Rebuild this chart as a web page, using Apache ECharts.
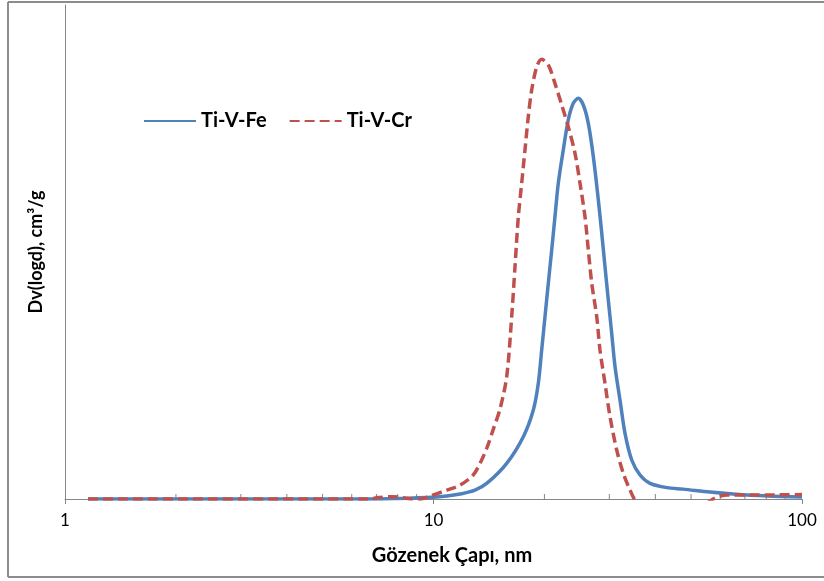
<!DOCTYPE html>
<html>
<head>
<meta charset="utf-8">
<script src="https://cdn.jsdelivr.net/npm/echarts@6/dist/echarts.min.js"></script>
<style>
  html, body { margin: 0; padding: 0; background: #fff; }
  #chart { width: 824px; height: 581px; }
</style>
</head>
<body>
<div id="chart"></div>
<script>
// Pore size distribution, Dv(logd) vs pore diameter (nm), log x axis
const seriesNames = ['Ti-V-Fe', 'Ti-V-Cr'];

const tiVFeDiameter = [1.155, 2.32, 6.73, 9.60, 10.88, 11.80, 12.96, 13.97, 15.80, 17.53, 18.66,
  19.25, 19.66, 20.07, 20.49, 20.93, 21.36, 21.81, 22.50, 23.21, 23.95, 24.72, 25.50, 26.31, 27.15,
  28.01, 28.61, 29.20, 29.81, 30.45, 31.09, 32.07, 33.09, 34.51, 36.35, 38.70, 43.02, 47.54, 56.27,
  65.0, 80.35, 100];
const tiVFeDv = [0, 0, 0, 0.0015, 0.003, 0.005, 0.009, 0.016, 0.0361, 0.0631, 0.0901,
  0.1171, 0.1508, 0.1845, 0.2183, 0.2520, 0.2857, 0.3195, 0.3532, 0.3836, 0.4005, 0.4055, 0.3988, 0.3802, 0.3464,
  0.3026, 0.2692, 0.2351, 0.2014, 0.1677, 0.1339, 0.1002, 0.0665, 0.0395, 0.0243, 0.0159, 0.0115, 0.010, 0.007,
  0.005, 0.003, 0.002];

const tiVCrDiameter = [1.155, 6.73, 7.07, 7.77, 8.27, 8.74, 9.19, 9.78, 10.88, 11.80, 12.80, 13.37,
  13.97, 14.51, 15.15, 15.80, 16.30, 16.64, 16.99, 17.35, 17.71, 18.08, 18.47, 19.06, 19.66, 20.49,
  21.36, 22.28, 23.21, 24.21, 24.98, 25.77, 26.31, 26.88, 27.73, 28.30, 29.20, 30.13, 31.42, 32.74,
  34.14, 35.22, 37.49, 41.18, 49.67, 54.56, 57.35, 62.58, 72.26, 100];
const tiVCrDv = [0, 0, 0.0015, 0.0023, 0.0013, 0, 0, 0.003, 0.009, 0.014, 0.024, 0.036,
  0.052, 0.070, 0.091, 0.1238, 0.1845, 0.2351, 0.2857, 0.3195, 0.3532, 0.3869, 0.4139, 0.4375, 0.4450, 0.4393,
  0.4207, 0.3988, 0.3768, 0.3499, 0.3195, 0.2857, 0.2520, 0.2183, 0.1845, 0.1508, 0.1171, 0.0833, 0.0496, 0.0260,
  0.0091, -0.001, -0.011, -0.016, -0.013, -0.006, 0, 0.004, 0.004, 0.0045];

// minor tick positions on the logarithmic axis
const minorTickValues = [2, 3, 4, 5, 6, 7, 8, 9, 20, 30, 40, 50, 60, 70, 80, 90];

const xAxisTitle = 'Gözenek Çapı, nm';
const yAxisTitle = 'Dv(logd), cm³/g';

const pairs = (xs, ys) => xs.map((x, i) => [x, ys[i]]);

const FONT = 'Lato, "Open Sans", "Liberation Sans", sans-serif';
const AXIS_GREY = '#868686';

const chart = echarts.init(document.getElementById('chart'), null, { renderer: 'canvas' });

chart.setOption({
  animation: false,
  backgroundColor: '#ffffff',
  grid: { left: 65, right: 22, top: 5, bottom: 82, containLabel: false },
  legend: {
    data: seriesNames,
    left: 143,
    top: 111,
    padding: 0,
    itemWidth: 52,
    itemHeight: 14,
    itemGap: 22,
    itemStyle: { opacity: 0 },
    textStyle: { fontFamily: FONT, fontWeight: 'bold', fontSize: 20, color: '#000', padding: [0, 0, 0, 0] }
  },
  xAxis: {
    type: 'log',
    logBase: 10,
    min: 1,
    max: 100,
    name: xAxisTitle,
    nameLocation: 'middle',
    nameGap: 47,
    nameTextStyle: { fontFamily: FONT, fontWeight: 'bold', fontSize: 20, color: '#000', padding: [0, 0, 0, 37] },
    axisLine: { show: true, lineStyle: { color: AXIS_GREY, width: 1 } },
    axisTick: { show: true, inside: false, length: 5, lineStyle: { color: AXIS_GREY } },
    axisLabel: { fontFamily: FONT, fontSize: 17, color: '#000', margin: 13 },
    splitLine: { show: false },
    minorTick: { show: false }
  },
  yAxis: {
    type: 'value',
    min: 0,
    max: 0.5,
    name: yAxisTitle,
    nameLocation: 'middle',
    nameGap: 20,
    nameTextStyle: { fontFamily: FONT, fontWeight: 'bold', fontSize: 18, color: '#000' },
    axisLine: { show: true, lineStyle: { color: AXIS_GREY, width: 1 } },
    axisTick: { show: false },
    axisLabel: { show: false },
    splitLine: { show: false }
  },
  series: [
    {
      name: 'minorTicks',
      type: 'custom',
      silent: true,
      data: minorTickValues.map(v => [v, 0]),
      renderItem: (params, api) => {
        const p = api.coord([api.value(0), 0]);
        return {
          type: 'line',
          shape: { x1: p[0], y1: p[1], x2: p[0], y2: p[1] - 5 },
          style: { stroke: AXIS_GREY, lineWidth: 1 }
        };
      },
      z: 1
    },
    {
      name: seriesNames[0],
      type: 'line',
      data: pairs(tiVFeDiameter, tiVFeDv),
      smooth: 0.3,
      symbol: 'none',
      clip: true,
      lineStyle: { color: '#4F81BD', width: 3.5 },
      itemStyle: { color: '#4F81BD' },
      z: 3
    },
    {
      name: seriesNames[1],
      type: 'line',
      data: pairs(tiVCrDiameter, tiVCrDv),
      smooth: 0.3,
      symbol: 'none',
      clip: true,
      lineStyle: { color: '#C0504D', width: 3.5, type: [10, 5] },
      itemStyle: { color: '#C0504D' },
      z: 4
    }
  ],
  graphic: [
    // chart frame: top, left and bottom edges
    { type: 'line', shape: { x1: 8, y1: 2, x2: 824, y2: 2 }, style: { stroke: '#8c8c8c', lineWidth: 2 } },
    { type: 'line', shape: { x1: 8, y1: 2, x2: 8, y2: 577 }, style: { stroke: '#8c8c8c', lineWidth: 2 } },
    { type: 'line', shape: { x1: 8, y1: 577, x2: 824, y2: 577 }, style: { stroke: '#8c8c8c', lineWidth: 2 } }
  ]
});
</script>
</body>
</html>
